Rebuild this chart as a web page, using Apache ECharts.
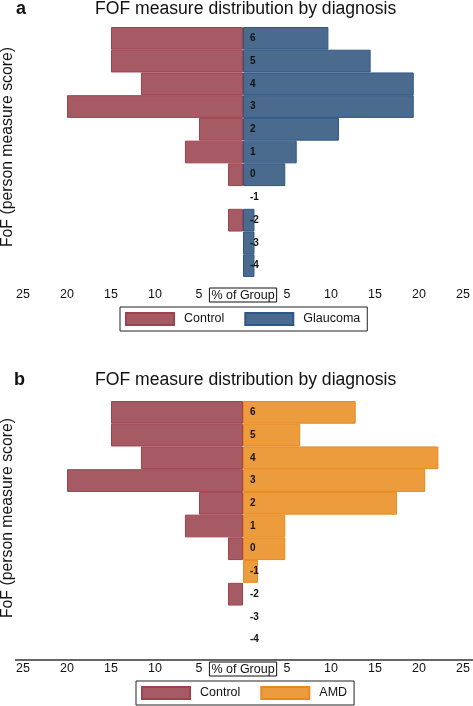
<!DOCTYPE html>
<html>
<head>
<meta charset="utf-8">
<script src="https://cdn.jsdelivr.net/npm/echarts@6/dist/echarts.min.js"></script>
<style>
html,body{margin:0;padding:0;background:#fff;}
#chart{width:473px;height:706px;}
</style>
</head>
<body>
<div id="chart"></div>
<script>
// ---- data ----
const rows = ['6', '5', '4', '3', '2', '1', '0', '-1', '-2', '-3', '-4'];
const controlPct = [15, 15, 11.6, 20, 5, 6.6, 1.7, 0, 1.7, 0, 0];
const glaucomaPct = [9.7, 14.5, 19.4, 19.4, 10.9, 6.1, 4.8, 0, 1.3, 1.3, 1.3];
const amdPct = [12.8, 6.5, 22.2, 20.7, 17.5, 4.8, 4.8, 1.7, 0, 0, 0];
const tickMin = -25, tickMax = 25, tickStep = 5;
const centerLabel = '% of Group';
const chartTitle = 'FOF measure distribution by diagnosis';
const yTitle = 'FoF (person measure score)';
const panelLetters = ['a', 'b'];

// ---- layout / styles ----
const FONT = "'Liberation Sans', Arial, sans-serif";
const GRID_LEFT = 23, GRID_RIGHT = 8, W = 473;
const HALF_W = (W - GRID_LEFT - GRID_RIGHT) / 2;
const C_CTRL = {color: '#a65b64', borderColor: '#a0414d', borderWidth: 1};
const C_GLAU = {color: '#4b6b8e', borderColor: '#2d5786', borderWidth: 1};
const C_AMD = {color: '#ed9c3d', borderColor: '#e8891b', borderWidth: 1};

const left = v => v ? -v : '-';
const right = v => v ? v : '-';

const chart = echarts.init(document.getElementById('chart'), null, {renderer: 'canvas'});

function xAxisFor(gi) {
  return {
    type: 'value', gridIndex: gi, min: tickMin, max: tickMax, interval: tickStep,
    axisLine: {show: false}, axisTick: {show: false}, splitLine: {show: false},
    axisLabel: {
      margin: 11, fontSize: 12.5, color: '#111', fontFamily: FONT,
      formatter: v => v === 0 ? '{box|' + centerLabel + '}' : String(Math.abs(v)),
      rich: {box: {fontSize: 12.5, color: '#111', fontFamily: FONT, borderColor: '#111', borderWidth: 1, padding: [1, 2, 0, 2]}}
    }
  };
}
function yAxisFor(gi) {
  return {
    type: 'category', gridIndex: gi, data: rows, inverse: true, z: 10,
    position: 'left', offset: -HALF_W,
    axisLine: {show: false, onZero: false}, axisTick: {show: false},
    axisLabel: {inside: true, margin: 6, fontSize: 10, fontWeight: 'bold', color: '#111', fontFamily: FONT}
  };
}
function barSeries(name, gi, data, style) {
  return {
    name: name, type: 'bar', xAxisIndex: gi, yAxisIndex: gi, stack: 's' + gi,
    barCategoryGap: '0%', data: data, itemStyle: style, emphasis: {disabled: true}
  };
}
const legendBase = {
  orient: 'horizontal', icon: 'rect', itemWidth: 48, itemHeight: 12, itemGap: 20,
  borderColor: '#222', borderWidth: 1, borderRadius: 0, padding: [5, 7, 5, 5],
  textStyle: {fontSize: 12.5, color: '#111', fontFamily: FONT, padding: [0, 0, 0, 5]},
  selectedMode: false
};

chart.setOption({
  animation: false,
  title: [
    {text: chartTitle, left: 95, top: 0, padding: 0, textStyle: {fontSize: 17.6, fontWeight: 'normal', color: '#111', fontFamily: FONT}},
    {text: panelLetters[0], left: 16, top: 0, padding: 0, textStyle: {fontSize: 18, fontWeight: 'bold', color: '#111', fontFamily: FONT}},
    {text: chartTitle, left: 95, top: 371, padding: 0, textStyle: {fontSize: 17.6, fontWeight: 'normal', color: '#111', fontFamily: FONT}},
    {text: panelLetters[1], left: 14, top: 371, padding: 0, textStyle: {fontSize: 18, fontWeight: 'bold', color: '#111', fontFamily: FONT}}
  ],
  grid: [
    {left: GRID_LEFT, right: GRID_RIGHT, top: 27, height: 250},
    {left: GRID_LEFT, right: GRID_RIGHT, top: 401, height: 250}
  ],
  xAxis: [xAxisFor(0), xAxisFor(1)],
  yAxis: [yAxisFor(0), yAxisFor(1)],
  legend: [
    Object.assign({}, legendBase, {data: ['Control', 'Glaucoma'], left: 120, top: 307}),
    Object.assign({}, legendBase, {data: ['Control', 'AMD'], left: 136, top: 681})
  ],
  series: [
    barSeries('Control', 0, controlPct.map(left), C_CTRL),
    barSeries('Glaucoma', 0, glaucomaPct.map(right), C_GLAU),
    barSeries('Control', 1, controlPct.map(left), C_CTRL),
    barSeries('AMD', 1, amdPct.map(right), C_AMD)
  ],
  graphic: [
    {type: 'text', x: 8, y: 147, rotation: Math.PI / 2,
     style: {text: yTitle, fontSize: 15.8, fontFamily: FONT, fill: '#111', align: 'center', verticalAlign: 'middle'}},
    {type: 'text', x: 8, y: 518, rotation: Math.PI / 2,
     style: {text: yTitle, fontSize: 15.8, fontFamily: FONT, fill: '#111', align: 'center', verticalAlign: 'middle'}},
    {type: 'line', shape: {x1: 15, y1: 660, x2: 473, y2: 660}, style: {stroke: '#666', lineWidth: 2}}
  ]
});
</script>
</body>
</html>
